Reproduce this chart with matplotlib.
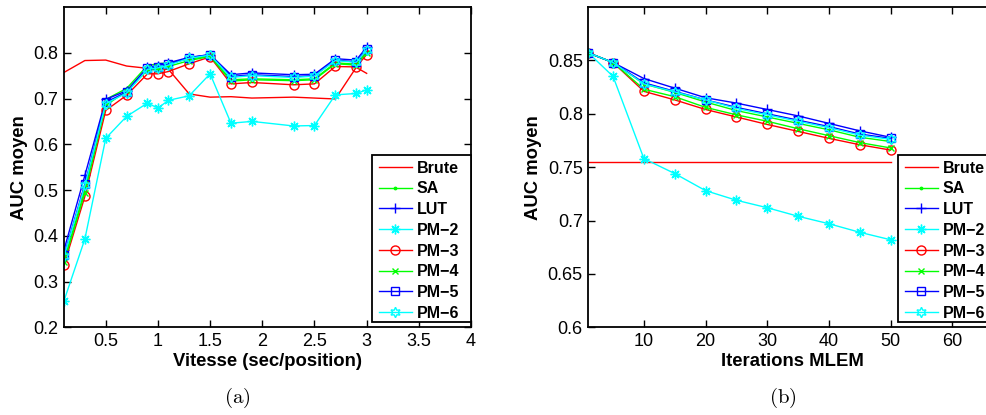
import matplotlib
matplotlib.use("Agg")
import matplotlib.pyplot as plt
from matplotlib.ticker import FixedLocator, FixedFormatter
from matplotlib.patches import Rectangle

plt.rcParams['font.family'] = ['Liberation Sans', 'DejaVu Sans']
plt.rcParams['mathtext.fontset'] = 'cm'

# ---------------- data: panel (a) ----------------
vitesse = [0.1, 0.3, 0.5, 0.7, 0.9, 1.0, 1.1, 1.3, 1.5, 1.7, 1.9, 2.3, 2.5, 2.7, 2.9, 3.0]
a_brute = [0.757, 0.783, 0.784, 0.771, 0.766, 0.765, 0.764, 0.710, 0.703, 0.704, 0.701, 0.703, 0.701, 0.699, 0.768, 0.755]
a_sa    = [0.345, 0.500, 0.698, 0.722, 0.772, 0.776, 0.778, 0.786, 0.793, 0.741, 0.743, 0.741, 0.743, 0.778, 0.775, 0.802]
a_lut   = [0.369, 0.532, 0.698, 0.717, 0.768, 0.772, 0.778, 0.790, 0.796, 0.752, 0.756, 0.752, 0.753, 0.787, 0.784, 0.812]
a_pm2   = [0.258, 0.393, 0.613, 0.661, 0.690, 0.679, 0.696, 0.706, 0.754, 0.646, 0.650, 0.640, 0.641, 0.708, 0.711, 0.719]
a_pm3   = [0.336, 0.486, 0.674, 0.707, 0.754, 0.754, 0.759, 0.776, 0.791, 0.732, 0.735, 0.730, 0.732, 0.770, 0.769, 0.796]
a_pm4   = [0.342, 0.494, 0.685, 0.716, 0.762, 0.764, 0.770, 0.783, 0.792, 0.738, 0.741, 0.739, 0.741, 0.776, 0.773, 0.800]
a_pm5   = [0.357, 0.513, 0.692, 0.714, 0.766, 0.769, 0.775, 0.789, 0.796, 0.748, 0.752, 0.748, 0.750, 0.784, 0.780, 0.808]
a_pm6   = [0.355, 0.510, 0.689, 0.712, 0.764, 0.767, 0.773, 0.788, 0.795, 0.746, 0.750, 0.746, 0.749, 0.783, 0.779, 0.806]

# ---------------- data: panel (b) ----------------
iterations = [1, 5, 10, 15, 20, 25, 30, 35, 40, 45, 50]
b_brute_x = [1, 50]
b_brute = [0.755, 0.755]
b_sa  = [0.857, 0.848, 0.828, 0.820, 0.811, 0.803, 0.797, 0.791, 0.785, 0.778, 0.774]
b_lut = [0.857, 0.848, 0.833, 0.824, 0.815, 0.810, 0.804, 0.798, 0.791, 0.784, 0.778]
b_pm2 = [0.857, 0.835, 0.758, 0.744, 0.728, 0.719, 0.712, 0.704, 0.697, 0.689, 0.682]
b_pm3 = [0.857, 0.848, 0.821, 0.813, 0.804, 0.797, 0.790, 0.7835, 0.777, 0.771, 0.766]
b_pm4 = [0.857, 0.848, 0.823, 0.816, 0.806, 0.799, 0.793, 0.786, 0.7795, 0.773, 0.768]
b_pm5 = [0.857, 0.848, 0.829, 0.821, 0.813, 0.806, 0.800, 0.794, 0.788, 0.781, 0.777]
b_pm6 = [0.857, 0.848, 0.828, 0.8205, 0.813, 0.805, 0.799, 0.793, 0.787, 0.780, 0.776]

labels = ['Brute', 'SA', 'LUT', 'PM\u22122', 'PM\u22123', 'PM\u22124', 'PM\u22125', 'PM\u22126']

R, G, B, C = (1, 0, 0), (0, 1, 0), (0, 0, 1), (0, 1, 1)
styles = [
    dict(color=R, marker=None),
    dict(color=G, marker='.', ms=3.5),
    dict(color=B, marker='+', ms=7),
    dict(color=C, marker=(8, 2, 0), ms=7),
    dict(color=R, marker='o', ms=6.5, mfc='none'),
    dict(color=G, marker='x', ms=4.5),
    dict(color=B, marker='s', ms=5.5, mfc='none'),
    dict(color=C, marker=(6, 1, 0), ms=7.5, mfc='none'),
]

W, H = 986, 415
fig = plt.figure(figsize=(W / 100, H / 100), dpi=100)

def axpos(x0, x1, y0, y1):
    return [x0 / W, 1 - y1 / H, (x1 - x0) / W, (y1 - y0) / H]

ax1 = fig.add_axes(axpos(64, 471, 7, 327.3))
ax2 = fig.add_axes(axpos(588.4, 996, 7, 327.3))

def draw(ax, xs_list, ys_list):
    hs = []
    for xs, ys, st, lab in zip(xs_list, ys_list, styles, labels):
        st = dict(st)
        mfc = st.pop('mfc', None)
        ms = st.pop('ms', 6)
        kw = dict(lw=1.0, label=lab, ms=ms, mew=1.0)
        if mfc is not None:
            kw['mfc'] = mfc
        h, = ax.plot(xs, ys, **st, **kw)
        hs.append(h)
    return hs

hs1 = draw(ax1, [vitesse] * 8, [a_brute, a_sa, a_lut, a_pm2, a_pm3, a_pm4, a_pm5, a_pm6])
hs2 = draw(ax2, [b_brute_x] + [iterations] * 7, [b_brute, b_sa, b_lut, b_pm2, b_pm3, b_pm4, b_pm5, b_pm6])

for ax in (ax1, ax2):
    ax.tick_params(direction='in', top=True, right=True, length=5, width=1,
                   labelsize=13, pad=4)
    for s in ax.spines.values():
        s.set_linewidth(1.3)

ax1.set_xlim(0.1, 4)
ax1.set_ylim(0.2, 0.9)
xt1 = [0.5, 1, 1.5, 2, 2.5, 3, 3.5, 4]
ax1.xaxis.set_major_locator(FixedLocator(xt1))
ax1.xaxis.set_major_formatter(FixedFormatter(['0.5', '1', '1.5', '2', '2.5', '3', '3.5', '4']))
yt1 = [0.2, 0.3, 0.4, 0.5, 0.6, 0.7, 0.8]
ax1.yaxis.set_major_locator(FixedLocator(yt1))
ax1.yaxis.set_major_formatter(FixedFormatter(['0.2', '0.3', '0.4', '0.5', '0.6', '0.7', '0.8']))
ax1.set_xlabel('Vitesse (sec/position)', fontsize=13.3, fontweight='bold', labelpad=2)
ax1.set_ylabel('AUC moyen', fontsize=13.3, fontweight='bold', labelpad=4)

ax2.set_xlim(1, 67.1)
ax2.set_ylim(0.6, 0.9)
xt2 = [10, 20, 30, 40, 50, 60]
ax2.xaxis.set_major_locator(FixedLocator(xt2))
ax2.xaxis.set_major_formatter(FixedFormatter(['10', '20', '30', '40', '50', '60']))
yt2 = [0.6, 0.65, 0.7, 0.75, 0.8, 0.85]
ax2.yaxis.set_major_locator(FixedLocator(yt2))
ax2.yaxis.set_major_formatter(FixedFormatter(['0.6', '0.65', '0.7', '0.75', '0.8', '0.85']))
ax2.set_xlabel('Iterations MLEM', fontsize=13.3, fontweight='bold', labelpad=2)
ax2.set_ylabel('AUC moyen', fontsize=13.3, fontweight='bold', labelpad=4)

leg_kw = dict(prop={'weight': 'bold', 'size': 11.5}, frameon=False,
              handlelength=2.06, handletextpad=0.31,
              labelspacing=0.36, borderpad=0, borderaxespad=0)

def legend_with_box(ax, hs, box_x0, box_x1, box_y0, box_y1):
    # frame drawn as a rectangle in figure pixels, entries placed inside it
    rect = Rectangle((box_x0 / W, 1 - box_y1 / H), (box_x1 - box_x0) / W, (box_y1 - box_y0) / H,
                     transform=fig.transFigure, facecolor='white', edgecolor='black',
                     lw=1.3, zorder=4.5, clip_on=False)
    ax.add_artist(rect)
    leg = ax.legend(hs, labels, loc='upper left',
                    bbox_to_anchor=((box_x0 + 7) / W, 1 - (box_y0 + 5.5) / H),
                    bbox_transform=fig.transFigure, **leg_kw)
    leg.set_zorder(5)
    return leg

legend_with_box(ax1, hs1, 372, 471, 155, 322)
legend_with_box(ax2, hs2, 898, 997, 155, 322)

fig.text(237 / W, 1 - 398 / H, r'$\mathrm{(a)}$', ha='center', va='center', fontsize=15)
fig.text(783 / W, 1 - 398 / H, r'$\mathrm{(b)}$', ha='center', va='center', fontsize=15)

fig.savefig('out.png', dpi=100)
